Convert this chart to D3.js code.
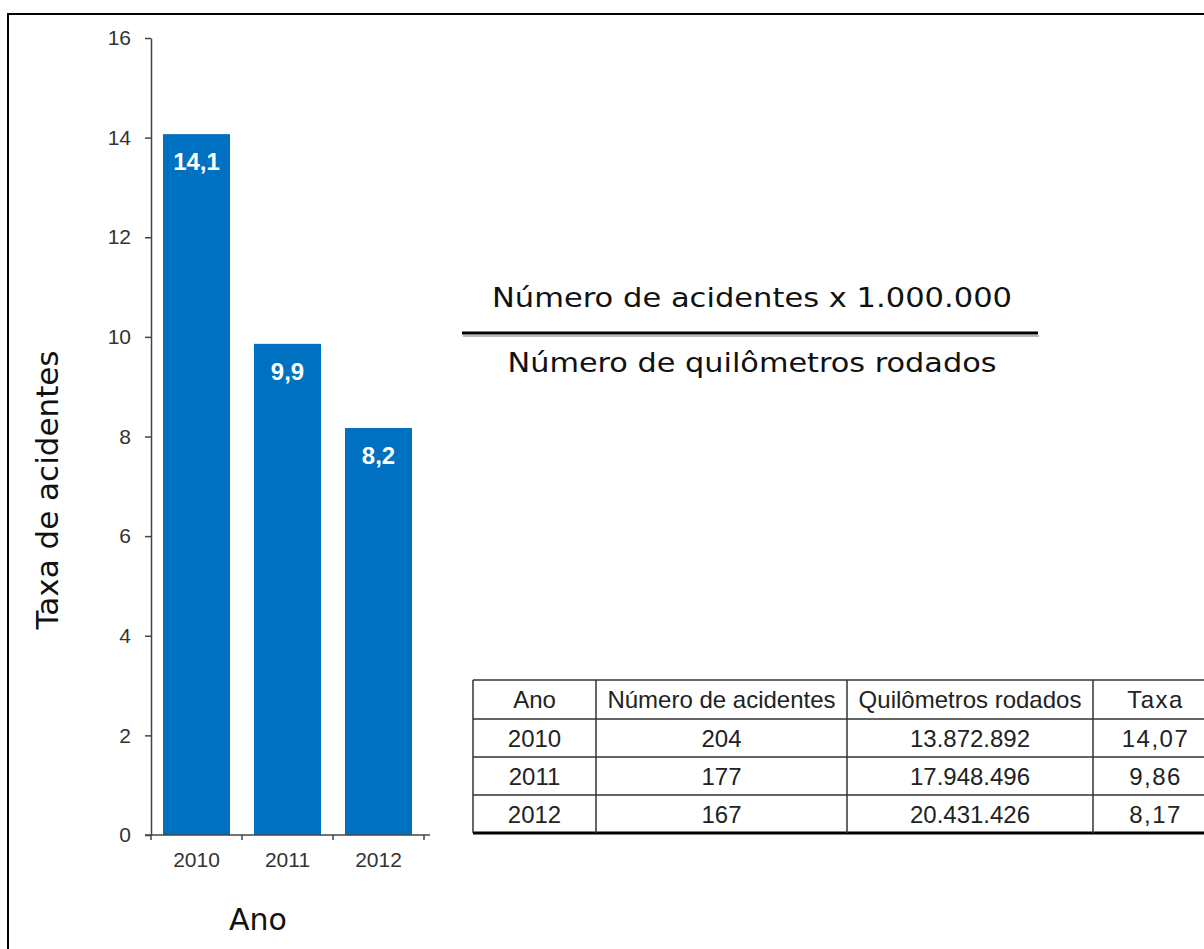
<!DOCTYPE html>
<html>
<head>
<meta charset="utf-8">
<script src="https://cdn.jsdelivr.net/npm/d3@7"></script>
<style>
  body { margin: 0; background: #fff; }
  svg { display: block; }
</style>
</head>
<body>
<div id="plot"></div>
<script>
const years = ["2010", "2011", "2012"];
const taxa = [14.07, 9.86, 8.17];
const acidentes = [204, 177, 167];
const quilometros = [13872892, 17948496, 20431426];
const yTicks = [0, 2, 4, 6, 8, 10, 12, 14, 16];
const tableHeader = ["Ano", "Número de acidentes", "Quilômetros rodados", "Taxa"];
const formulaTop = "Número de acidentes x 1.000.000";
const formulaBottom = "Número de quilômetros rodados";

const W = 1204, H = 949;
const ptBR = d3.formatLocale({ decimal: ",", thousands: ".", grouping: [3], currency: ["R$", ""] });
const fmt1 = ptBR.format(".1f");
const fmt2 = ptBR.format(".2f");
const fmtInt = ptBR.format(",d");

const svg = d3.select("#plot")
  .append("svg")
  .attr("width", W)
  .attr("height", H);

// outer frame (cut off at right and bottom)
svg.append("path")
  .attr("d", `M${W + 5},14 H8 V${H + 5}`)
  .attr("fill", "none")
  .attr("stroke", "#000")
  .attr("stroke-width", 2);

const xScale = d3.scaleBand().domain(years).range([151, 424]).paddingInner(0.264).paddingOuter(0.132);
const yScale = d3.scaleLinear().domain([0, 16]).range([835, 38]);

// y axis
const yAxis = svg.append("g")
  .attr("transform", "translate(151,0)")
  .call(d3.axisLeft(yScale).tickValues(yTicks).tickSizeInner(6).tickSizeOuter(0).tickPadding(14));
yAxis.select(".domain").attr("stroke", "#444").attr("stroke-width", 1.5);
yAxis.selectAll(".tick line").attr("stroke", "#444").attr("stroke-width", 1.5);
yAxis.selectAll(".tick text")
  .attr("fill", "#333")
  .style("font-family", "'Liberation Sans', Arial, sans-serif")
  .style("font-size", "21px");

// bars
svg.selectAll(".bar")
  .data(years)
  .enter()
  .append("rect")
  .attr("class", "bar")
  .attr("x", d => xScale(d))
  .attr("y", (d, i) => yScale(taxa[i]))
  .attr("width", xScale.bandwidth())
  .attr("height", (d, i) => yScale(0) - yScale(taxa[i]))
  .attr("fill", "#0070c0");

svg.selectAll(".bar-label")
  .data(years)
  .enter()
  .append("text")
  .attr("class", "bar-label")
  .attr("x", d => xScale(d) + xScale.bandwidth() / 2)
  .attr("y", (d, i) => yScale(taxa[i]) + 36)
  .attr("text-anchor", "middle")
  .attr("fill", "#fff")
  .style("font-family", "'Liberation Sans', Arial, sans-serif")
  .style("font-weight", "bold")
  .style("font-size", "24px")
  .text((d, i) => fmt1(taxa[i]));

// x axis
const xAxis = svg.append("g")
  .attr("transform", `translate(0,${yScale(0)})`)
  .call(d3.axisBottom(xScale).tickSize(0).tickPadding(17));
xAxis.select(".domain").remove();
xAxis.selectAll(".tick text")
  .attr("fill", "#333")
  .style("font-family", "'Liberation Sans', Arial, sans-serif")
  .style("font-size", "21px");
xAxis.append("line")
  .attr("x1", xScale.range()[0] - 6)
  .attr("x2", xScale.range()[1] + 6)
  .attr("stroke", "#444")
  .attr("stroke-width", 1.5);
const bounds = d3.range(years.length + 1).map(i => xScale.range()[0] + i * xScale.step());
xAxis.selectAll(".bound")
  .data(bounds)
  .enter()
  .append("line")
  .attr("x1", d => d).attr("x2", d => d)
  .attr("y1", 0).attr("y2", 5)
  .attr("stroke", "#444")
  .attr("stroke-width", 1.5);

// axis titles
svg.append("text")
  .attr("transform", "translate(58,490) rotate(-90)")
  .attr("text-anchor", "middle")
  .attr("fill", "#111")
  .style("font-family", "'DejaVu Sans', sans-serif")
  .style("font-size", "31px")
  .text("Taxa de acidentes");

svg.append("text")
  .attr("x", 258)
  .attr("y", 930)
  .attr("text-anchor", "middle")
  .attr("fill", "#111")
  .style("font-family", "'DejaVu Sans', sans-serif")
  .style("font-size", "30px")
  .text("Ano");

// formula
const fx = 752;
svg.append("text")
  .attr("x", fx).attr("y", 307)
  .attr("text-anchor", "middle")
  .attr("textLength", 520)
  .attr("lengthAdjust", "spacingAndGlyphs")
  .attr("fill", "#111")
  .style("font-family", "'DejaVu Sans', sans-serif")
  .style("font-size", "27px")
  .text(formulaTop);
svg.append("line")
  .attr("x1", 463).attr("x2", 1039)
  .attr("y1", 336).attr("y2", 336)
  .attr("stroke", "#bbb").attr("stroke-width", 2);
svg.append("line")
  .attr("x1", 462).attr("x2", 1038)
  .attr("y1", 333).attr("y2", 333)
  .attr("stroke", "#000").attr("stroke-width", 3);
svg.append("text")
  .attr("x", fx).attr("y", 372)
  .attr("text-anchor", "middle")
  .attr("textLength", 489)
  .attr("lengthAdjust", "spacingAndGlyphs")
  .attr("fill", "#111")
  .style("font-family", "'DejaVu Sans', sans-serif")
  .style("font-size", "27px")
  .text(formulaBottom);

// table
const colEdges = [473, 596, 847, 1093, 1218];
const rowEdges = [680, 719, 757, 795, 833];
const rows = [tableHeader].concat(years.map((y, i) => [
  y, String(acidentes[i]), fmtInt(quilometros[i]), fmt2(taxa[i])
]));

const table = svg.append("g");
table.selectAll(".hline")
  .data(rowEdges)
  .enter()
  .append("line")
  .attr("x1", colEdges[0]).attr("x2", colEdges[colEdges.length - 1])
  .attr("y1", d => d).attr("y2", d => d)
  .attr("stroke", (d, i) => i === rowEdges.length - 1 ? "#000" : "#333")
  .attr("stroke-width", (d, i) => i === rowEdges.length - 1 ? 3 : 1.5);
table.selectAll(".vline")
  .data(colEdges)
  .enter()
  .append("line")
  .attr("x1", d => d).attr("x2", d => d)
  .attr("y1", rowEdges[0]).attr("y2", rowEdges[rowEdges.length - 1])
  .attr("stroke", "#333")
  .attr("stroke-width", 1.5);

rows.forEach((row, r) => {
  row.forEach((cell, c) => {
    table.append("text")
      .attr("x", (colEdges[c] + colEdges[c + 1]) / 2)
      .attr("y", (rowEdges[r] + rowEdges[r + 1]) / 2)
      .attr("dy", "0.36em")
      .attr("text-anchor", "middle")
      .attr("fill", "#222")
      .style("font-family", "'Liberation Sans', Arial, sans-serif")
      .style("font-size", "24px")
      .style("letter-spacing", c === 3 ? "1.5px" : "0px")
      .text(cell);
  });
});
</script>
</body>
</html>
